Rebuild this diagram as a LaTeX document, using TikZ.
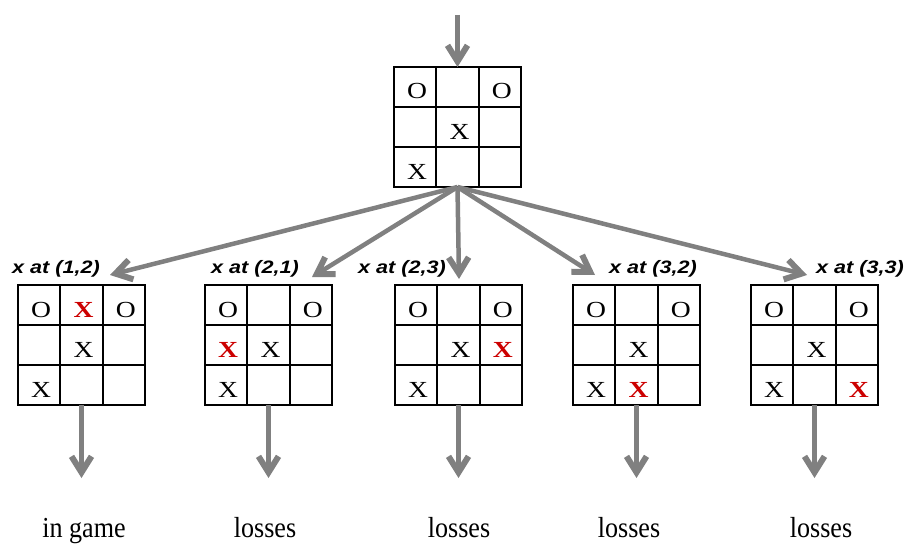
\documentclass[tikz,border=0pt]{standalone}
\usepackage{fontspec}
\usetikzlibrary{arrows.meta,calc}
\setmainfont{Liberation Serif}
\newfontfamily\boardfont[FakeStretch=1.2]{Liberation Serif}
\newfontfamily\labelfont[FakeStretch=1.2]{Liberation Sans}
\newfontfamily\resultfont[FakeStretch=0.9]{Liberation Serif}
\definecolor{arrowgray}{RGB}{128,128,128}
\definecolor{markred}{RGB}{204,0,0}

\tikzset{
  boardbox/.style={draw=black, line width=2pt, minimum width=127pt, minimum height=120pt, anchor=north west, inner sep=0pt, outer sep=0pt},
  gridline/.style={draw=black, line width=2pt},
  xomark/.style={font=\boardfont\fontsize{23}{23}\selectfont, inner sep=0pt, anchor=center},
  newmark/.style={xomark, text=markred, font=\boardfont\bfseries\fontsize{23}{23}\selectfont},
  movelabel/.style={font=\labelfont\bfseries\itshape\fontsize{18}{18}\selectfont, anchor=base, inner sep=0pt},
  result/.style={font=\resultfont\fontsize{29}{29}\selectfont, anchor=base, inner sep=0pt},
  conn/.style={draw=arrowgray, line width=4.5pt, -{Straight Barb[length=16pt,width=20pt,line width=6pt]}},
}

\newcommand\tttboard[3]{%
  \node[boardbox] (#1) at (#2,#3) {};
  \draw[gridline] ($(#1.north west)!1/3!(#1.north east)$) -- ($(#1.south west)!1/3!(#1.south east)$);
  \draw[gridline] ($(#1.north west)!2/3!(#1.north east)$) -- ($(#1.south west)!2/3!(#1.south east)$);
  \draw[gridline] ($(#1.north west)!1/3!(#1.south west)$) -- ($(#1.north east)!1/3!(#1.south east)$);
  \draw[gridline] ($(#1.north west)!2/3!(#1.south west)$) -- ($(#1.north east)!2/3!(#1.south east)$);
}
\newcommand\tttmark[5]{%
  \node[#5] (#1-#2#3) at ($(#1.north west)+({(#2-0.5)*127/3+2},{(#3-0.5)*40+4.5})$) {#4};
}
\newcommand\basemarks[1]{%
  \tttmark{#1}{1}{1}{O}{xomark}
  \tttmark{#1}{3}{1}{O}{xomark}
  \tttmark{#1}{2}{2}{X}{xomark}
  \tttmark{#1}{1}{3}{X}{xomark}
}

\begin{document}
\begin{tikzpicture}[x=1pt,y=-1pt]
\useasboundingbox (0,0) rectangle (909,545);

% boards
\tttboard{top}{394}{67}
\basemarks{top}
\tttboard{b1}{18}{285}
\basemarks{b1}
\tttmark{b1}{2}{1}{X}{newmark}
\tttboard{b2}{205}{285}
\basemarks{b2}
\tttmark{b2}{1}{2}{X}{newmark}
\tttboard{b3}{395}{285}
\basemarks{b3}
\tttmark{b3}{3}{2}{X}{newmark}
\tttboard{b4}{573}{285}
\basemarks{b4}
\tttmark{b4}{2}{3}{X}{newmark}
\tttboard{b5}{751}{285}
\basemarks{b5}
\tttmark{b5}{3}{3}{X}{newmark}

% move labels
\node[movelabel] (l1) at (56,273) {x at (1,2)};
\node[movelabel] (l2) at (255,273) {x at (2,1)};
\node[movelabel] (l3) at (402,273) {x at (2,3)};
\node[movelabel] (l4) at (653,273) {x at (3,2)};
\node[movelabel] (l5) at (860,273) {x at (3,3)};

% results
\node[result] (r1) at (84,537) {in game};
\node[result] (r2) at (265,537) {losses};
\node[result] (r3) at (459,537) {losses};
\node[result] (r4) at (629,537) {losses};
\node[result] (r5) at (821,537) {losses};

% connector end points
\coordinate (s0) at (457.5,15);
\coordinate (t1) at (110,275);
\coordinate (t2) at (312,277);
\coordinate (t3) at (459,279);
\coordinate (t4) at (595,275);
\coordinate (t5) at (807,275);
\foreach \i in {1,...,5} {
  \path (b\i.south) ++(0,73) coordinate (e\i);
}

% connectors
\draw[conn] (s0) -- (top.north);
\foreach \i in {1,...,5} {
  \draw[conn] (top.south) -- (t\i);
  \draw[conn] (b\i.south) -- (e\i);
}
\end{tikzpicture}
\end{document}
